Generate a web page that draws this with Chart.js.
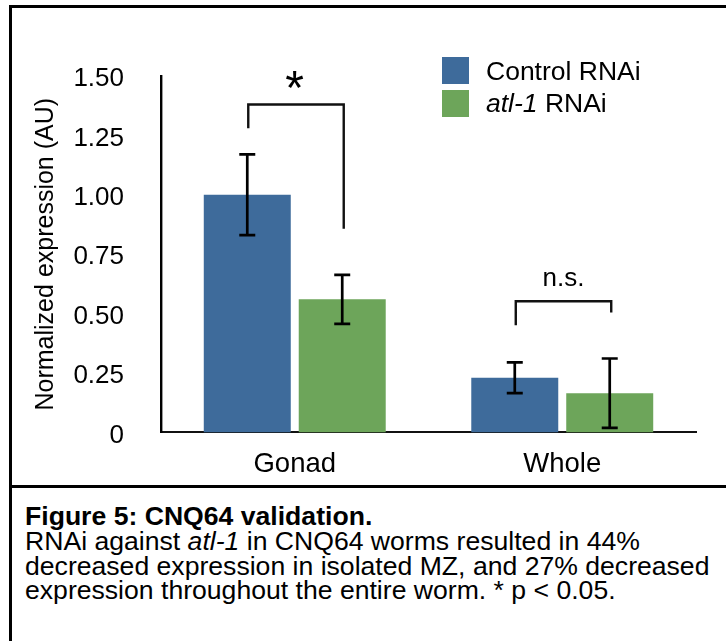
<!DOCTYPE html>
<html>
<head>
<meta charset="utf-8">
<script src="https://cdn.jsdelivr.net/npm/chart.js@4.4.1/dist/chart.umd.min.js"></script>
<style>
  html, body { margin: 0; padding: 0; background: #fff; width: 726px; height: 641px; overflow: hidden; position: relative; }
  #frame { position: absolute; left: 9px; top: 5px; width: 800px; height: 700px; border-top: 3px solid #000; border-left: 3px solid #000; box-sizing: border-box; }
  #sep { position: absolute; left: 9px; top: 485px; width: 800px; height: 3px; background: #000; }
  #chartBox { position: absolute; left: 12px; top: 8px; width: 714px; height: 477px; }
  #cap { position: absolute; left: 25px; top: 504px; font-family: "Liberation Sans", Arial, Helvetica, sans-serif; font-size: 26.6px; line-height: 24.8px; color: #000; white-space: nowrap; }
</style>
</head>
<body>
<div id="frame"></div>
<div id="sep"></div>
<div id="chartBox"><canvas id="c" width="714" height="477"></canvas></div>
<div id="cap"><b>Figure 5: CNQ64 validation.</b><br>RNAi against <i>atl-1</i> in CNQ64 worms resulted in 44%<br>decreased expression in isolated MZ, and 27% decreased<br>expression throughout the entire worm. * p &lt; 0.05.</div>
<script>
// ---- data ----
const categories = ['Gonad', 'Whole'];
const seriesNames = ['Control RNAi', 'atl-1 RNAi'];
const seriesItalicPart = ['', 'atl-1'];
const seriesPlainPart = ['Control RNAi', ' RNAi'];
const controlValues = [1.00, 0.23];
const atlValues = [0.56, 0.165];
const controlErrors = [0.17, 0.065];
const atlErrors = [0.103, 0.146];
const yTickValues = [0, 0.25, 0.5, 0.75, 1.0, 1.25, 1.5];
const yAxisTitle = 'Normalized expression (AU)';
// significance brackets (value units)
const bracketTop = [1.38, 0.552];
const bracketLeftEnd = [1.28, 0.451];
const bracketRightEnd = [0.857, 0.505];
const bracketLabels = ['*', 'n.s.'];

const FONT = '"Liberation Sans", Arial, Helvetica, sans-serif';
const colors = ['#3E6B9B', '#6DA55A'];
const errors = [controlErrors, atlErrors];

const annotPlugin = {
  id: 'annot',
  afterDatasetsDraw(chart) {
    const ctx = chart.ctx;
    const y = chart.scales.y;
    ctx.save();
    ctx.strokeStyle = '#000';
    ctx.lineCap = 'butt';
    // error bars
    chart.data.datasets.forEach((ds, i) => {
      const meta = chart.getDatasetMeta(i);
      ds.data.forEach((v, j) => {
        const bar = meta.data[j];
        const x = bar.x;
        const yt = y.getPixelForValue(v + errors[i][j]);
        const yb = y.getPixelForValue(v - errors[i][j]);
        ctx.lineWidth = 2.7;
        ctx.beginPath();
        ctx.moveTo(x, yt); ctx.lineTo(x, yb);
        ctx.moveTo(x - 8, yt); ctx.lineTo(x + 8, yt);
        ctx.moveTo(x - 8, yb); ctx.lineTo(x + 8, yb);
        ctx.stroke();
      });
    });
    // brackets
    const m0 = chart.getDatasetMeta(0), m1 = chart.getDatasetMeta(1);
    categories.forEach((c, j) => {
      const xl = m0.data[j].x + 1, xr = m1.data[j].x + 1.5;
      const yt = y.getPixelForValue(bracketTop[j]);
      const yl = y.getPixelForValue(bracketLeftEnd[j]);
      const yr = y.getPixelForValue(bracketRightEnd[j]);
      ctx.lineWidth = 2.4;
      ctx.strokeStyle = '#111';
      ctx.beginPath();
      ctx.moveTo(xl, yl); ctx.lineTo(xl, yt); ctx.lineTo(xr, yt); ctx.lineTo(xr, yr);
      ctx.stroke();
      ctx.fillStyle = '#000';
      ctx.textAlign = 'center';
      ctx.textBaseline = 'alphabetic';
      if (bracketLabels[j] === '*') {
        ctx.font = '48px ' + FONT;
        ctx.fillText(bracketLabels[j], (xl + xr) / 2 - 1.5, yt - 1);
      } else {
        ctx.font = '26px ' + FONT;
        ctx.fillText(bracketLabels[j], (xl + xr) / 2, yt - 15);
      }
    });
    // legend
    const lx = 430, ly = [49, 82], base = [72, 104.3];
    chart.data.datasets.forEach((ds, i) => {
      ctx.fillStyle = ds.backgroundColor;
      ctx.fillRect(lx, ly[i], 27, 27);
      ctx.fillStyle = '#000';
      ctx.textAlign = 'left';
      let tx = lx + 44;
      if (seriesItalicPart[i]) {
        ctx.font = 'italic 26.5px ' + FONT;
        ctx.fillText(seriesItalicPart[i], tx, base[i]);
        tx += ctx.measureText(seriesItalicPart[i]).width;
      }
      ctx.font = '26.5px ' + FONT;
      ctx.fillText(seriesPlainPart[i], tx, base[i]);
    });
    ctx.restore();
  }
};

new Chart(document.getElementById('c'), {
  type: 'bar',
  data: {
    labels: categories,
    datasets: [
      { label: seriesNames[0], data: controlValues, backgroundColor: colors[0], categoryPercentage: 0.71, barPercentage: 0.916 },
      { label: seriesNames[1], data: atlValues, backgroundColor: colors[1], categoryPercentage: 0.71, barPercentage: 0.916 }
    ]
  },
  options: {
    responsive: false,
    animation: false,
    layout: { padding: { top: 68, right: 30, left: 0, bottom: 0 } },
    plugins: { legend: { display: false }, tooltip: { enabled: false } },
    scales: {
      x: {
        grid: { display: false, drawTicks: false },
        border: { display: true, color: '#111', width: 2 },
        ticks: { color: '#000', font: { family: FONT, size: 27.5 }, padding: 16 },
        afterFit(s) { s.height = 52; }
      },
      y: {
        min: 0, max: 1.5,
        afterBuildTicks(s) { s.ticks = yTickValues.map(v => ({ value: v })); },
        grid: { display: false, drawTicks: false },
        border: { display: true, color: '#000', width: 2.4 },
        ticks: { color: '#000', font: { family: FONT, size: 26 }, padding: 37, labelOffset: 3,
          callback: v => v === 0 ? '0' : Number(v).toFixed(2) },
        title: { display: true, text: yAxisTitle, color: '#000', font: { family: FONT, size: 25, lineHeight: 1.2 }, padding: { top: 19, bottom: 0 } },
        afterFit(s) { s.width = 149; }
      }
    }
  },
  plugins: [annotPlugin]
});
</script>
</body>
</html>
